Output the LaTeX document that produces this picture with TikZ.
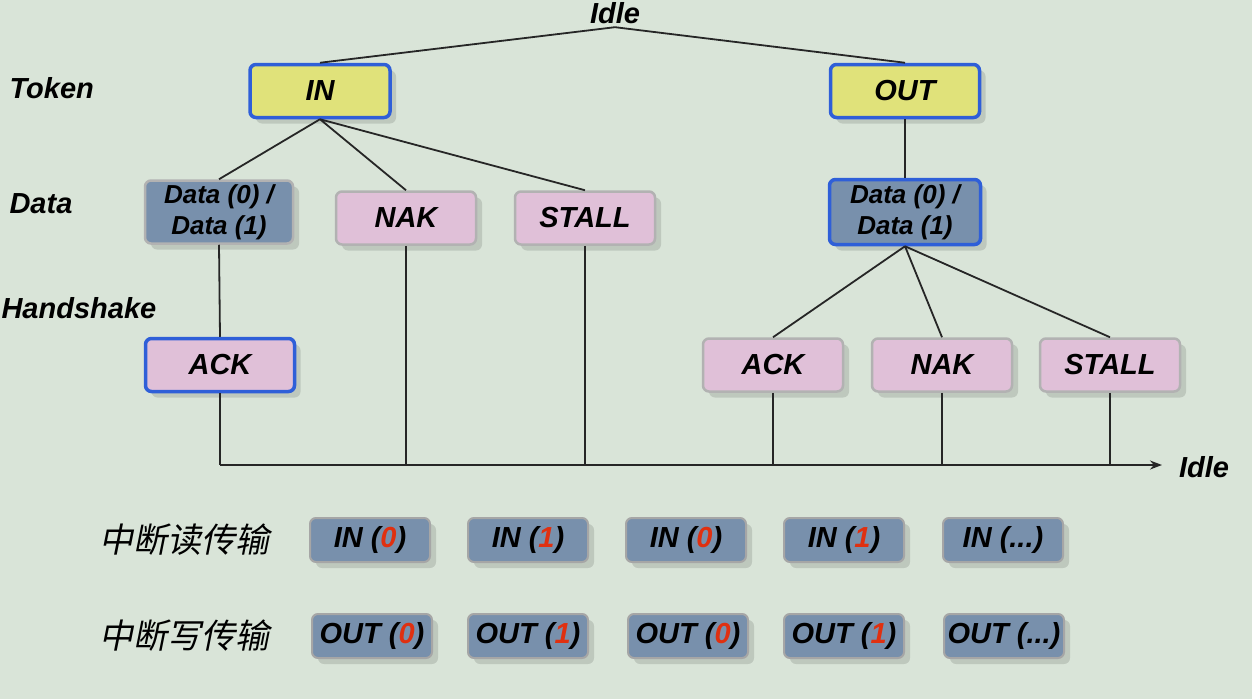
\documentclass[tikz,border=0pt]{standalone}
\usepackage{fontspec}
\setmainfont{Liberation Sans}
\newfontfamily\cjk{Noto Sans CJK SC}[FakeSlant=0.2]
\usetikzlibrary{shadows,arrows.meta}
\definecolor{bg}{HTML}{D9E4D8}
\definecolor{yel}{HTML}{E0E27A}
\definecolor{pnk}{HTML}{E0C0D8}
\definecolor{gbl}{HTML}{7890AC}
\definecolor{bbd}{HTML}{2F5FD8}
\definecolor{rd}{HTML}{E03010}
\begin{document}
\begin{tikzpicture}[x=1pt,y=-1pt,
 font=\fontsize{29}{31}\selectfont\bfseries\itshape,
 box/.style={draw=gray!60,line width=2.5pt,rounded corners=6pt,minimum width=140pt,minimum height=53pt,align=center,inner sep=1pt,
   drop shadow={shadow xshift=6pt,shadow yshift=-6pt,fill=black,opacity=0.12}},
 tok/.style={box,fill=yel,draw=bbd,line width=3.5pt},
 pk/.style={box,fill=pnk},
 dat/.style={box,fill=gbl},
 sel/.style={draw=bbd,line width=3.5pt},
 sm/.style={box,fill=gbl,minimum width=120pt,minimum height=44pt,draw=gray!70,line width=2pt},
 lbl/.style={anchor=west},
 ln/.style={line width=1.8pt,black!85}]
\fill[bg] (0,0) rectangle (1252,699);
\useasboundingbox (0,0) rectangle (1252,699);
\node (idle) at (615,13) {Idle};
\node[tok] (in) at (320,91) {IN};
\node[tok,minimum width=149pt] (out) at (905,91) {OUT};
\node[dat,minimum width=148pt,minimum height=63pt,font=\fontsize{26}{31}\selectfont\bfseries\itshape] (dl) at (219,212) {Data (0) /\\Data (1)};
\node[pk] (nak1) at (406,218) {NAK};
\node[pk] (st1) at (585,218) {STALL};
\node[dat,sel,minimum width=151pt,minimum height=65pt,font=\fontsize{26}{31}\selectfont\bfseries\itshape] (dr) at (905,212) {Data (0) /\\Data (1)};
\node[pk,sel,minimum width=149pt] (ack1) at (220,365) {ACK};
\node[pk] (ack2) at (773,365) {ACK};
\node[pk] (nak2) at (942,365) {NAK};
\node[pk] (st2) at (1110,365) {STALL};
\node[lbl] (tk) at (6,88) {Token};
\node[lbl] (dt) at (6,204) {Data};
\node[lbl] (hs) at (-2,308) {Handshake};
\coordinate (l1) at (220,465);\coordinate (l2) at (406,465);\coordinate (l3) at (585,465);
\coordinate (l4) at (773,465);\coordinate (l5) at (942,465);\coordinate (l6) at (1110,465);
\coordinate (le) at (1162,465);
\node (idle2) at (1204,467) {Idle};
\draw[ln] (idle.south) -- (in.north) (idle.south) -- (out.north);
\draw[ln] (in.south) -- (dl.north) (in.south) -- (nak1.north) (in.south) -- (st1.north);
\draw[ln] (out.south) -- (dr.north);
\draw[ln] (dr.south) -- (ack2.north) (dr.south) -- (nak2.north) (dr.south) -- (st2.north);
\draw[ln] (dl.south) -- (ack1.north);
\draw[ln] (ack1.south) -- (l1) (nak1.south) -- (l2) (st1.south) -- (l3)
 (ack2.south) -- (l4) (nak2.south) -- (l5) (st2.south) -- (l6);
\draw[ln,-{Stealth[length=12pt,width=9pt]}] (l1) -- (le);
\node[lbl,font=\fontsize{34}{36}\cjk] (c1) at (96,540) {中断读传输};
\node[lbl,font=\fontsize{34}{36}\cjk] (c2) at (96,636) {中断写传输};
\def\z{\textcolor{rd}{0}}\def\o{\textcolor{rd}{1}}
\node[sm] (a1) at (370,540) {IN (\z)};
\node[sm] (a2) at (528,540) {IN (\o)};
\node[sm] (a3) at (686,540) {IN (\z)};
\node[sm] (a4) at (844,540) {IN (\o)};
\node[sm] (a5) at (1003,540) {IN (...)};
\node[sm] (b1) at (372,636) {OUT (\z)};
\node[sm] (b2) at (528,636) {OUT (\o)};
\node[sm] (b3) at (688,636) {OUT (\z)};
\node[sm] (b4) at (844,636) {OUT (\o)};
\node[sm] (b5) at (1004,636) {OUT (...)};
\end{tikzpicture}
\end{document}
